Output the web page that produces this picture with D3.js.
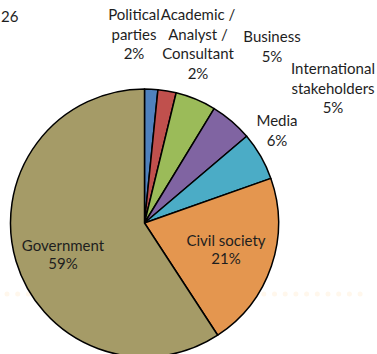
<!DOCTYPE html>
<html><head><meta charset="utf-8">
<script src="https://cdn.jsdelivr.net/npm/d3@7"></script>
<style>
html,body{margin:0;padding:0;background:#fff;overflow:hidden}
text{font-family:Lato,"Open Sans",sans-serif;fill:#1e1e1e}
</style></head>
<body>
<svg id="chart" width="377" height="354"></svg>
<script>
const categories = [
  ["Political", "parties"],
  ["Academic /", "Analyst /", "Consultant"],
  ["Business"],
  ["International", "stakeholders"],
  ["Media"],
  ["Civil society"],
  ["Government"]
];
const values = [1.6, 2.2, 4.9, 5.1, 5.8, 21.2, 59.2];
const pctLabels = ["2%", "2%", "5%", "5%", "6%", "21%", "59%"];
const colors = ["#4F81BD", "#C0504D", "#9BBB59", "#8064A2", "#4BACC6", "#E4964F", "#A59B67"];
const pageNumber = "26";

const svg = d3.select("#chart");
const cx = 144.5, cy = 223, R = 134;

// faint dotted background line
const dotX = d3.range(7, 370, 10.7);
svg.append("g").selectAll("circle").data(dotX).join("circle")
  .attr("cx", d => d).attr("cy", 294).attr("r", 2.5).attr("fill", "#FFF7EC");

const pie = d3.pie().sort(null).value(d => d)(values);
const arc = d3.arc().innerRadius(0).outerRadius(R);
const g = svg.append("g").attr("transform", `translate(${cx},${cy})`);
g.selectAll("path").data(pie).join("path")
  .attr("d", arc)
  .attr("fill", (d, i) => colors[i])
  .attr("stroke", "#000").attr("stroke-width", 1.5).attr("stroke-linejoin", "round");

// label anchor positions (centre x, first baseline y)
const labelPos = [[134, 20], [198, 20], [272, 42], [333, 74], [277, 126], [226, 246], [63, 251]];
const lh = 19.5;
categories.forEach((lines, i) => {
  const all = lines.concat([pctLabels[i]]);
  const [x, y] = labelPos[i];
  const t = svg.append("text").attr("text-anchor", "middle").attr("font-size", 15);
  all.forEach((s, k) => t.append("tspan").attr("x", x).attr("y", y + k * (i >= 5 ? 18 : lh)).text(s));
});

svg.append("text").attr("x", 1).attr("y", 22).attr("font-size", 15).text(pageNumber);
</script>
</body></html>
